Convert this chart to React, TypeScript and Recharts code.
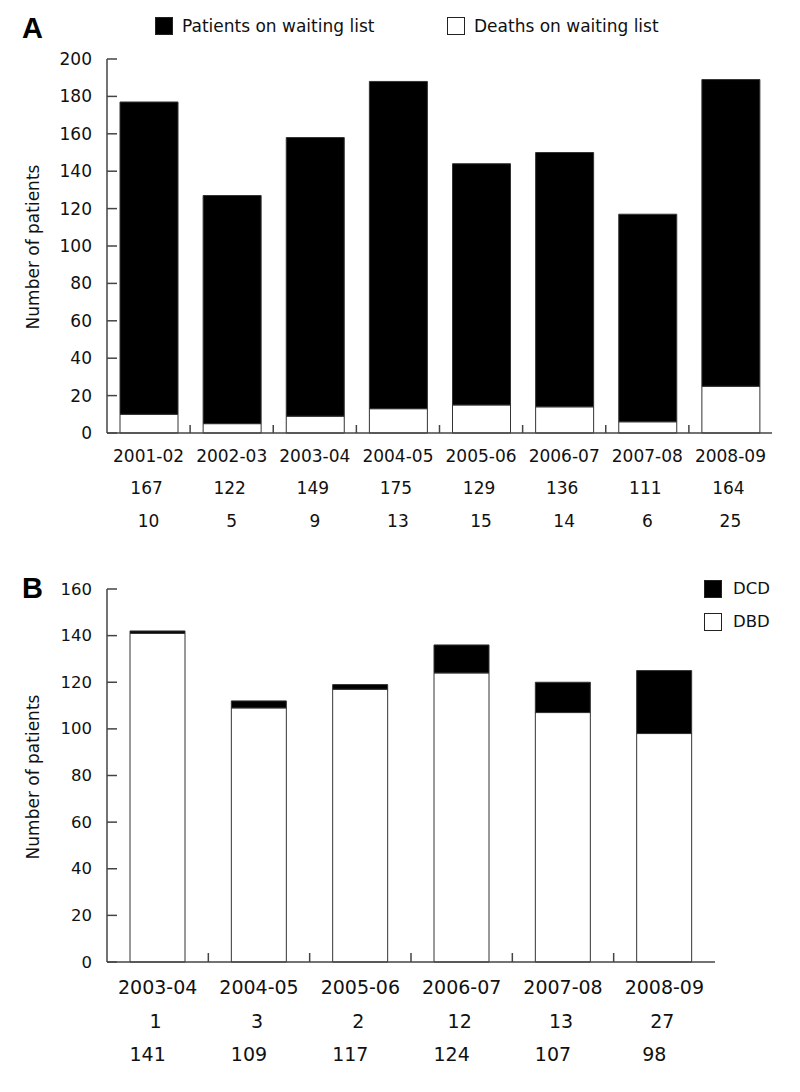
import React from 'react';
import { BarChart, Bar, XAxis, YAxis } from 'recharts';

// ---- Panel A data ----
const yearsA = ['2001-02', '2002-03', '2003-04', '2004-05', '2005-06', '2006-07', '2007-08', '2008-09'];
const waitingA = [167, 122, 149, 175, 129, 136, 111, 164];
const deathsA = [10, 5, 9, 13, 15, 14, 6, 25];
const ticksA = [0, 20, 40, 60, 80, 100, 120, 140, 160, 180, 200];

// ---- Panel B data ----
const yearsB = ['2003-04', '2004-05', '2005-06', '2006-07', '2007-08', '2008-09'];
const dcdB = [1, 3, 2, 12, 13, 27];
const dbdB = [141, 109, 117, 124, 107, 98];
const ticksB = [0, 20, 40, 60, 80, 100, 120, 140, 160];

const dataA = yearsA.map((y, i) => ({ year: y, deaths: deathsA[i], waiting: waitingA[i] }));
const dataB = yearsB.map((y, i) => ({ year: y, dbd: dbdB[i], dcd: dcdB[i] }));

const FONT = '"DejaVu Sans", Verdana, sans-serif';
const AXIS = '#444';

const makeXTick = (rows: (string | number)[][], offsets: number[], rowDx: number[], fontSize: number, tickLen: number, n: number, plotW: number) =>
  (props: any) => {
    const { x, y, payload, index } = props;
    const idx = typeof index === 'number' ? index : payload.index;
    const half = payload && typeof payload.offset === 'number' && payload.offset > 0 ? payload.offset : plotW / n / 2;
    const bx = x + half;
    return (
      <g>
        {idx < n - 1 && <line x1={bx} x2={bx} y1={y} y2={y - tickLen} stroke={AXIS} strokeWidth={1.5} />}
        {rows.map((r, ri) => (
          <text key={ri} x={x + rowDx[ri]} y={y + offsets[ri]} textAnchor="middle" dominantBaseline="central"
            fontFamily={FONT} fontSize={fontSize} fill="#111">
            {r[idx]}
          </text>
        ))}
      </g>
    );
  };

const makeYTick = (fontSize: number) => (props: any) => {
  const { x, y, payload } = props;
  return (
    <g>
      <line x1={x} x2={x + 10} y1={y} y2={y} stroke={AXIS} strokeWidth={1.5} />
      <text x={x - 15} y={y} textAnchor="end" dominantBaseline="central" fontFamily={FONT} fontSize={fontSize} fill="#111">
        {payload.value}
      </text>
    </g>
  );
};

const Swatch = ({ fill }: { fill: string }) => (
  <span style={{ display: 'inline-block', width: 16, height: 16, background: fill, border: '1px solid #222', boxSizing: 'content-box' }} />
);

const LegendItem = ({ fill, label, left, top, gap, fontSize }: { fill: string; label: string; left: number; top: number; gap: number; fontSize: number }) => (
  <div style={{ position: 'absolute', left, top, display: 'flex', alignItems: 'center', fontFamily: FONT, fontSize, color: '#111' }}>
    <Swatch fill={fill} />
    <span style={{ marginLeft: gap, lineHeight: '18px' }}>{label}</span>
  </div>
);

const yLabel = (cy: number) => (props: any) => {
  return (
    <text x={33} y={cy} transform={`rotate(-90 33 ${cy})`} textAnchor="middle" dominantBaseline="central"
      fontFamily={FONT} fontSize={17} fill="#111">
      Number of patients
    </text>
  );
};

export default function App() {
  return (
    <div style={{ position: 'absolute', left: 0, top: 0, width: 800, height: 1092, background: '#fff' }}>
      <div style={{ position: 'absolute', left: 22, top: 12, fontFamily: '"Liberation Sans", Arial, sans-serif', fontWeight: 'bold', fontSize: 29, color: '#000' }}>A</div>
      <div style={{ position: 'absolute', left: 22, top: 572, fontFamily: '"Liberation Sans", Arial, sans-serif', fontWeight: 'bold', fontSize: 29, color: '#000' }}>B</div>

      <LegendItem fill="#000" label="Patients on waiting list" left={155} top={17} gap={9} fontSize={17} />
      <LegendItem fill="#fff" label="Deaths on waiting list" left={447} top={17} gap={9} fontSize={17} />
      <LegendItem fill="#000" label="DCD" left={704} top={580} gap={11} fontSize={16.5} />
      <LegendItem fill="#fff" label="DBD" left={704} top={613} gap={11} fontSize={16.5} />

      <div style={{ position: 'absolute', left: 0, top: 0 }}>
        <BarChart width={800} height={545} data={dataA} margin={{ top: 59, right: 28, left: 47, bottom: 12 }}>
          <XAxis dataKey="year" height={100} tickSize={0} tickMargin={0} tickLine={false} interval={0}
            axisLine={{ stroke: AXIS, strokeWidth: 1.5 }}
            tick={makeXTick([yearsA, waitingA, deathsA], [23, 55, 88], [0, -2, 0], 17, 8, yearsA.length, 665)} />
          <YAxis width={60} domain={[0, 200]} ticks={ticksA} interval={0} tickSize={0} tickMargin={0} tickLine={false}
            axisLine={{ stroke: AXIS, strokeWidth: 1.5 }} tick={makeYTick(17)}
            label={yLabel(247)} />
          <Bar dataKey="deaths" stackId="a" fill="#fff" stroke="#333" strokeWidth={1} barSize={58} isAnimationActive={false} name="Deaths on waiting list" />
          <Bar dataKey="waiting" stackId="a" fill="#000" stroke="#333" strokeWidth={1} barSize={58} isAnimationActive={false} name="Patients on waiting list" />
        </BarChart>
      </div>

      <div style={{ position: 'absolute', left: 0, top: 545 }}>
        <BarChart width={800} height={547} data={dataB} margin={{ top: 44, right: 85, left: 47, bottom: 30 }}>
          <XAxis dataKey="year" height={100} tickSize={0} tickMargin={0} tickLine={false} interval={0}
            axisLine={{ stroke: AXIS, strokeWidth: 1.5 }}
            tick={makeXTick([yearsB, dcdB, dbdB], [25, 59, 92], [0, -2, -10], 19, 9, yearsB.length, 608)} />
          <YAxis width={60} domain={[0, 160]} ticks={ticksB} interval={0} tickSize={0} tickMargin={0} tickLine={false}
            axisLine={{ stroke: AXIS, strokeWidth: 1.5 }} tick={makeYTick(16.5)}
            label={yLabel(232)} />
          <Bar dataKey="dbd" stackId="b" fill="#fff" stroke="#333" strokeWidth={1} barSize={55} isAnimationActive={false} name="DBD" />
          <Bar dataKey="dcd" stackId="b" fill="#000" stroke="#333" strokeWidth={1} barSize={55} isAnimationActive={false} name="DCD" />
        </BarChart>
      </div>
    </div>
  );
}
